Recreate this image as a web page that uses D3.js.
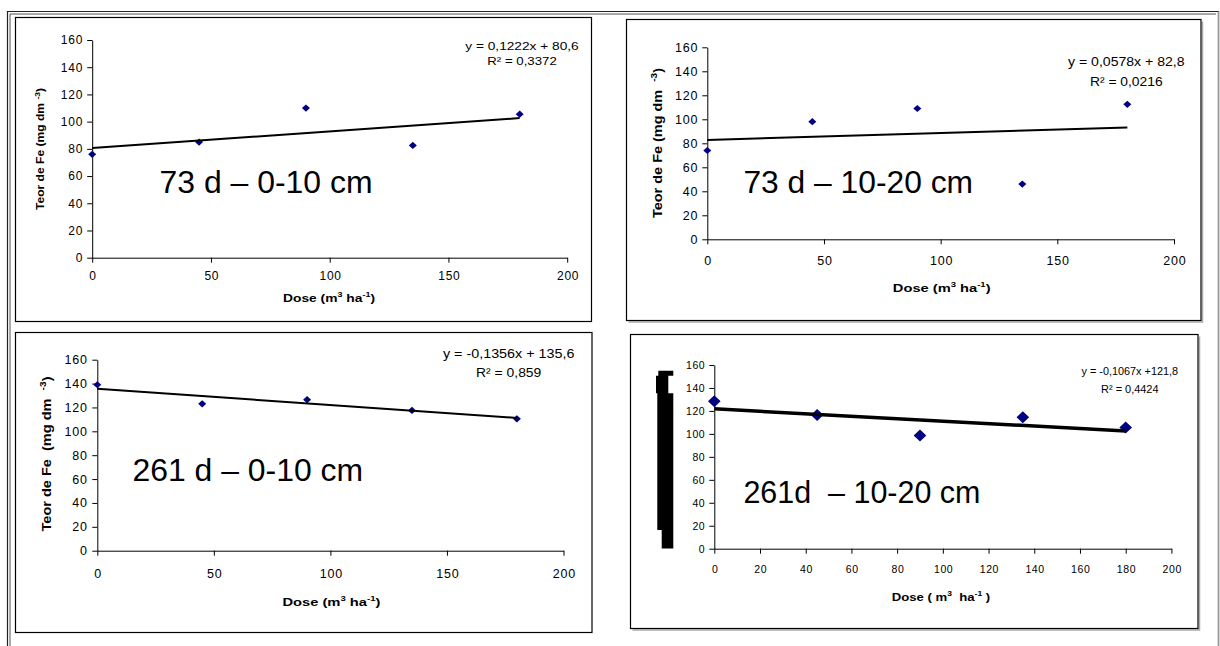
<!DOCTYPE html>
<html><head><meta charset="utf-8">
<script src="https://cdn.jsdelivr.net/npm/d3@7"></script>
<style>
body{margin:0;background:#fff}
svg{display:block}
text{font-family:"Liberation Sans",Arial,Helvetica,sans-serif;fill:#000}
</style>
</head><body>
<svg id="c" width="1220" height="646"></svg>
<script>
// ---------------- data ----------------
const doses = [0, 45, 90, 135, 180];
const fe73d010 = [76, 85, 110, 82.5, 105.5];
const fe73d1020 = [74, 98, 109, 46, 112.5];
const fe261d010 = [139, 123, 126.5, 117.5, 110.5];
const fe261d1020 = [128.5, 116.5, 98.5, 114.5, 105.5];
const slopes = [0.1222, 0.0578, -0.1356, -0.1067];
const intercepts = [80.6, 82.8, 135.6, 121.8];
const equations = ["y = 0,1222x + 80,6", "y = 0,0578x + 82,8", "y = -0,1356x + 135,6", "y = -0,1067x +121,8"];
const r2Labels = ["R² = 0,3372", "R² = 0,0216", "R² = 0,859", "R² = 0,4424"];
const panelTitles = ["73 d – 0-10 cm", "73 d – 10-20 cm", "261 d – 0-10 cm", "261d  – 10-20 cm"];
const yTicks = [0, 20, 40, 60, 80, 100, 120, 140, 160];
const xTicksWide = [0, 50, 100, 150, 200];
const xTicksFine = [0, 20, 40, 60, 80, 100, 120, 140, 160, 180, 200];
const yTitleParts = [["Teor de Fe (mg dm ", "-3", ")"], ["Teor de Fe (mg dm  ", "-3", ")"], ["Teor de Fe  (mg dm  ", "-3", ")"], null];
const xTitleParts = [["Dose (m", "3", " ha", "-1", ")"], ["Dose (m", "3", " ha", "-1", ")"], ["Dose (m", "3", " ha", "-1", ")"], ["Dose ( m", "3", "  ha", "-1", " )"]];
const seriesList = [fe73d010, fe73d1020, fe261d010, fe261d1020];
const xTickSets = [xTicksWide, xTicksWide, xTicksWide, xTicksFine];

// ---------------- layout (positions / styles only) ----------------
const layout = [
  {box:[15.5,17.5,576,304], px:[92.2,567.2], py:[257.7,40], tick:12, ls:0.8, xPad:9, yPad:4,
   eq:{cx:522, y1:50, y2:65, fs:11.5, w1:113.5, w2:69.5},
   big:{x:159.5, y:193.3, fs:32, w:213},
   yt:{cx:40.8, cy:149, fs:10.5, len:122}, xt:{cx:329, y:301.5, fs:10.5, len:92},
   mk:[4,3.6], lw:2, shadow:false},
  {box:[626.5,19.5,574.5,301], px:[707.3,1174], py:[239.3,47.3], tick:12.5, ls:0.8, xPad:12, yPad:4,
   eq:{cx:1126.3, y1:66, y2:85.5, fs:13, w1:116.6, w2:72.7},
   big:{x:743.4, y:193.3, fs:32, w:229.6},
   yt:{cx:657.5, cy:143, fs:12, len:150}, xt:{cx:941.7, y:291.5, fs:11.5, len:97.7},
   mk:[4,3.6], lw:2, shadow:true},
  {box:[15.5,332.5,576.5,300], px:[97.3,563.5], py:[550.7,359.7], tick:12.5, ls:0.8, xPad:13, yPad:4.5,
   eq:{cx:508.7, y1:357.5, y2:377, fs:12, w1:131.6, w2:65.2},
   big:{x:132.5, y:481, fs:32, w:230.5},
   yt:{cx:46.7, cy:454, fs:12, len:155}, xt:{cx:331.4, y:605.5, fs:11.5, len:98},
   mk:[4,3.6], lw:2, shadow:false},
  {box:[630.5,334.5,567.5,294], px:[714.3,1171.4], py:[548.7,365], tick:10.5, ls:0.6, xPad:11.5, yPad:4,
   eq:{cx:1129.8, y1:374.5, y2:392.5, fs:10.5, w1:96.5, w2:57.5},
   big:{x:743.4, y:503.3, fs:31, w:237},
   yt:null, xt:{cx:941, y:600.5, fs:10.5, len:98.5},
   mk:[6.3,6], lw:3.5, shadow:true}
];

const svg = d3.select("#c");
svg.append("rect").attr("width",1220).attr("height",646).attr("fill","#fff");

// outer frame (open at bottom)
const frame = svg.append("g").attr("fill","none");
frame.append("path").attr("d","M7.5,646 V11.5 H1218.5 V646").attr("stroke","#222").attr("stroke-width",1.2);
frame.append("path").attr("d","M10,646 V14 H1216").attr("stroke","#555").attr("stroke-width",1);
frame.append("path").attr("d","M1218.5,11.5 V646").attr("stroke","#999").attr("stroke-width",1.5);

layout.forEach((L, i) => {
  const g = svg.append("g");
  const [bx,by,bw,bh] = L.box;
  if (L.shadow) {
    g.append("path").attr("d",`M${bx+2},${by+bh+1.5} H${bx+bw+1.5} V${by+2}`)
      .attr("fill","none").attr("stroke","#aaa").attr("stroke-width",1.5);
  }
  g.append("rect").attr("x",bx).attr("y",by).attr("width",bw).attr("height",bh)
    .attr("fill","#fff").attr("stroke","#000").attr("stroke-width",1.2);

  const x = d3.scaleLinear().domain([0,200]).range(L.px);
  const y = d3.scaleLinear().domain([0,160]).range(L.py);

  const xAxis = d3.axisBottom(x).tickValues(xTickSets[i]).tickSize(5).tickSizeOuter(0).tickPadding(L.xPad).tickFormat(d3.format("d"));
  const yAxis = d3.axisLeft(y).tickValues(yTicks).tickSize(5).tickSizeOuter(0).tickPadding(L.yPad).tickFormat(d3.format("d"));

  const gx = g.append("g").attr("transform",`translate(0,${L.py[0]})`).call(xAxis);
  const gy = g.append("g").attr("transform",`translate(${L.px[0]},0)`).call(yAxis);
  [gx, gy].forEach(a => {
    a.selectAll("path,line").attr("stroke","#000").attr("stroke-width",1);
    a.selectAll("text").attr("font-size",L.tick).attr("font-family","Liberation Sans, Arial, sans-serif")
      .style("letter-spacing",L.ls+"px").attr("fill","#000");
  });
  gx.selectAll("text").attr("dx", L.ls/2);

  // markers
  const pts = doses.map((d,k) => [d, seriesList[i][k]]);
  const [mw, mh] = L.mk;
  g.append("g").selectAll("path").data(pts).join("path")
    .attr("transform", d => `translate(${x(d[0])},${y(d[1])})`)
    .attr("d", `M0,${-mh} L${mw},0 L0,${mh} L${-mw},0 Z`)
    .attr("fill","#000080");

  // trend line
  const line = d3.line().x(d => x(d)).y(d => y(slopes[i]*d + intercepts[i]));
  g.append("path").datum([0,180]).attr("d", line)
    .attr("fill","none").attr("stroke","#000").attr("stroke-width",L.lw);

  // equation & R2
  g.append("text").attr("x",L.eq.cx).attr("y",L.eq.y1).attr("text-anchor","middle")
    .attr("font-size",L.eq.fs).attr("textLength",L.eq.w1).attr("lengthAdjust","spacingAndGlyphs")
    .text(equations[i]);
  g.append("text").attr("x",L.eq.cx).attr("y",L.eq.y2).attr("text-anchor","middle")
    .attr("font-size",L.eq.fs).attr("textLength",L.eq.w2).attr("lengthAdjust","spacingAndGlyphs")
    .text(r2Labels[i]);

  // big panel label
  g.append("text").attr("x",L.big.x).attr("y",L.big.y).attr("font-size",L.big.fs)
    .attr("textLength",L.big.w).attr("lengthAdjust","spacingAndGlyphs")
    .style("white-space","pre").text(panelTitles[i]);

  // y title
  if (yTitleParts[i]) {
    const p = yTitleParts[i];
    const t = g.append("text").attr("transform",`translate(${L.yt.cx + L.yt.fs*0.35},${L.yt.cy}) rotate(-90)`)
      .attr("text-anchor","middle").attr("font-size",L.yt.fs).attr("font-weight","bold")
      .attr("textLength",L.yt.len).attr("lengthAdjust","spacingAndGlyphs").style("white-space","pre");
    t.append("tspan").text(p[0]);
    t.append("tspan").attr("font-size",L.yt.fs*0.7).attr("dy",-L.yt.fs*0.4).text(p[1]);
    t.append("tspan").attr("dy",L.yt.fs*0.4).text(p[2]);
  }

  // x title
  const q = xTitleParts[i];
  const xt = g.append("text").attr("x",L.xt.cx).attr("y",L.xt.y).attr("text-anchor","middle")
    .attr("font-size",L.xt.fs).attr("font-weight","bold")
    .attr("textLength",L.xt.len).attr("lengthAdjust","spacingAndGlyphs").style("white-space","pre");
  xt.append("tspan").text(q[0]);
  xt.append("tspan").attr("font-size",L.xt.fs*0.65).attr("dy",-L.xt.fs*0.4).text(q[1]);
  xt.append("tspan").attr("dy",L.xt.fs*0.4).text(q[2]);
  xt.append("tspan").attr("font-size",L.xt.fs*0.65).attr("dy",-L.xt.fs*0.4).text(q[3]);
  xt.append("tspan").attr("dy",L.xt.fs*0.4).text(q[4]);

  // panel 4: y title rendered as a solid black block (as in the source image)
  if (!yTitleParts[i]) {
    const ax = L.px[0], top = L.py[1];
    const pts2 = [[-56,5.7],[-41,5.7],[-41,10.7],[-46,10.7],[-46,28.3],[-41,28.3],[-41,183.5],
                  [-52.6,183.5],[-52.6,165],[-57,165],[-57,28.3],[-58.3,28.3],[-58.3,10.7],[-56,10.7]];
    g.append("path").attr("d","M"+pts2.map(p=>[ax+p[0], top+p[1]].join(",")).join("L")+"Z").attr("fill","#000");
  }
});
</script>
</body></html>
